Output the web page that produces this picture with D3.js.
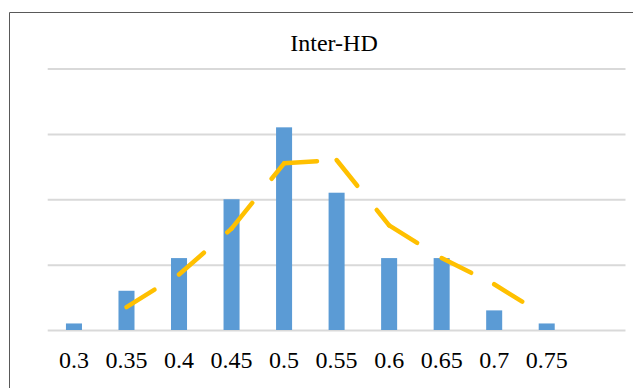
<!DOCTYPE html>
<html>
<head>
<meta charset="utf-8">
<script src="https://cdn.jsdelivr.net/npm/d3@7"></script>
<style>
  html, body { margin: 0; padding: 0; background: #fff; }
  svg { display: block; }
</style>
</head>
<body>
<svg id="chart" width="633" height="388"></svg>
<script>
// Distribution of Inter-HD values: counts per bin plus a 2-period moving-average trend
const categories = ["0.3", "0.35", "0.4", "0.45", "0.5", "0.55", "0.6", "0.65", "0.7", "0.75"];
const counts = [1, 6, 11, 20, 31, 21, 11, 11, 3, 1];
// moving-average trend, starting at the second bin
const trendCategories = ["0.35", "0.4", "0.45", "0.5", "0.55", "0.6", "0.65", "0.7", "0.75"];
const trendValues = [3.5, 8.5, 15.5, 25.5, 26, 16, 11, 7, 2];
const yTicks = [0, 10, 20, 30, 40];
const title = "Inter-HD";

const svg = d3.select("#chart");
const W = 633, H = 388;

// plot area
const plotLeft = 47.7, plotRight = 625.5, plotTop = 68.5, plotBottom = 330;
const slots = categories.length + 1;           // one empty slot after the last bin
const step = (plotRight - plotLeft) / slots;

const x = d3.scaleBand()
  .domain(categories)
  .range([plotLeft, plotLeft + step * categories.length])
  .paddingInner(0.695)
  .paddingOuter(0.3475);

const y = d3.scaleLinear().domain([0, 40]).range([plotBottom, plotTop]);

// chart frame
svg.append("path")
  .attr("d", `M9.5,${H + 2}V12.5H${W + 2}`)
  .attr("fill", "none")
  .attr("stroke", "#595959")
  .attr("stroke-width", 1);

// title
svg.append("text")
  .attr("x", 334)
  .attr("y", 51)
  .attr("text-anchor", "middle")
  .attr("font-family", "'Liberation Serif', 'Times New Roman', serif")
  .attr("font-size", 24)
  .attr("fill", "#000")
  .text(title);

// horizontal gridlines
const yAxis = d3.axisLeft(y).tickValues(yTicks).tickSize(-(plotRight - plotLeft)).tickFormat("");
const gy = svg.append("g").attr("transform", `translate(${plotLeft},0)`).call(yAxis);
gy.select(".domain").remove();
gy.selectAll(".tick line").attr("stroke", "#d9d9d9").attr("stroke-width", 2);

// bars
svg.append("g").selectAll("rect")
  .data(counts)
  .join("rect")
  .attr("x", (d, i) => x(categories[i]))
  .attr("width", x.bandwidth())
  .attr("y", d => y(d))
  .attr("height", d => y(0) - y(d))
  .attr("fill", "#5b9bd5");

// category labels
const xAxis = d3.axisBottom(x).tickSize(0).tickPadding(0);
const gx = svg.append("g").attr("transform", `translate(0,${plotBottom})`).call(xAxis);
gx.select(".domain").remove();
gx.selectAll(".tick text")
  .attr("dy", 0)
  .attr("y", 38.3)
  .attr("font-family", "'Liberation Serif', 'Times New Roman', serif")
  .attr("font-size", 24)
  .attr("fill", "#000");

// dashed trend line; each segment restarts the dash pattern
const cx = c => x(c) + x.bandwidth() / 2;
const trendPts = trendValues.map((v, i) => [cx(trendCategories[i]), y(v)]);
const seg = d3.line();
const pairs = d3.pairs(trendPts);
svg.append("g").selectAll("path")
  .data(pairs)
  .join("path")
  .attr("d", d => seg(d))
  .attr("fill", "none")
  .attr("stroke", "#ffc000")
  .attr("stroke-width", 4.5)
  .attr("stroke-linecap", "round")
  .attr("stroke-dasharray", "33,31");
</script>
</body>
</html>
